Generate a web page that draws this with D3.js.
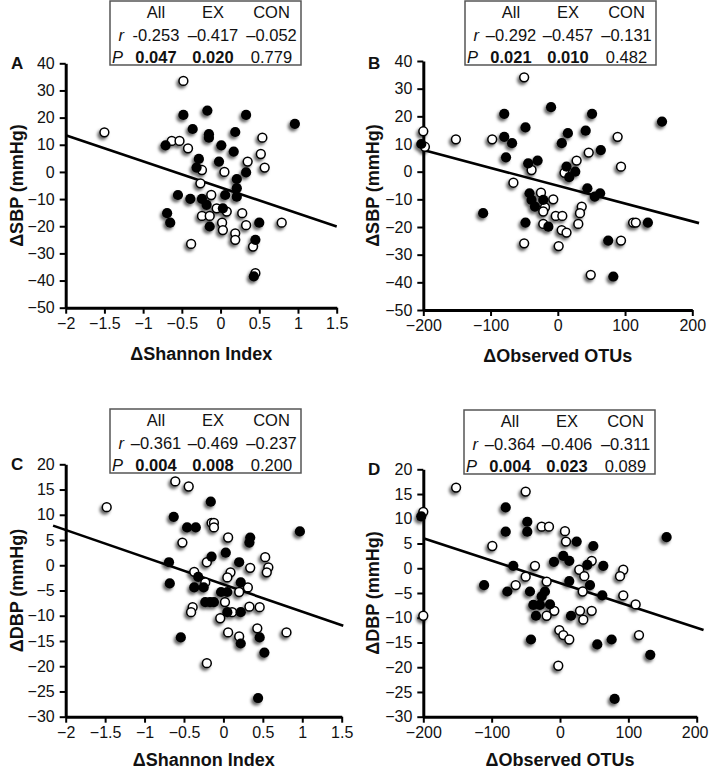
<!DOCTYPE html>
<html>
<head>
<meta charset="utf-8">
<script src="https://cdn.jsdelivr.net/npm/d3@7"></script>
<style>
  body { margin: 0; background: #fff; }
  svg { display: block; font-family: "Liberation Sans", Arial, sans-serif; }
</style>
</head>
<body>
<svg id="chart" width="709" height="769"></svg>
<script>
// ---------- DATA ----------
// Panel A: ΔShannon Index vs ΔSBP
const exA = [[-0.48,21.0],[-0.17,22.6],[0.33,21.0],[0.96,17.7],[-0.36,15.8],[-0.15,13.9],[-0.15,12.6],[0.19,14.7],[-0.71,9.8],[0.01,9.8],[0.17,7.5],[-0.02,3.8],[-0.28,4.8],[-0.31,1.6],[0.33,-0.2],[0.21,-2.6],[0.21,-6.0],[0.21,-9.1],[0.06,-8.5],[-0.55,-8.5],[-0.39,-9.9],[-0.24,-9.9],[-0.18,-12.1],[0.03,-13.4],[-0.69,-15.2],[-0.65,-18.7],[-0.14,-20.1],[0.50,-18.7],[0.45,-25.0],[0.43,-38.5]];
const conA = [[-1.50,14.6],[-0.48,33.5],[0.54,12.6],[-0.63,11.4],[-0.53,11.4],[-0.42,8.7],[0.52,6.6],[0.35,3.8],[-0.24,0.7],[0.57,1.6],[0.05,0.0],[-0.26,-4.2],[-0.12,-8.5],[-0.05,-13.4],[0.08,-14.6],[-0.24,-16.2],[-0.14,-16.2],[0.28,-15.2],[0.02,-18.7],[0.03,-21.4],[0.33,-19.6],[0.79,-18.7],[0.19,-22.6],[0.19,-25.0],[0.42,-27.5],[-0.38,-26.5],[0.45,-37.3]];
const fitA = [[-2,13.5],[1.5,-20.1]];
// Panel B: ΔObserved OTUs vs ΔSBP
const exB = [[-79.6,20.9],[-10,23.3],[51,20.9],[-48,16.0],[15,13.9],[41.5,14.8],[-79.6,12.6],[-68,10.3],[6,10.3],[64,7.8],[-77,5.2],[-44,3.0],[-30,4.0],[13,1.8],[17,-2.0],[26,0],[44,-6.0],[55,-9.0],[63,-7.8],[-42,-7.8],[-39,-10.2],[-34,-12.6],[-21.6,-10.2],[-111,-15.0],[-48,-18.4],[-14,-19.9],[134,-18.4],[75,-24.9],[82.6,-37.9],[155,18.1],[-203,10]];
const conB = [[-97.5,11.7],[89,12.6],[46,6.9],[-39,0.6],[28,4.0],[94,1.8],[10,-0.4],[-66,-4.0],[-25,-7.6],[-19,-12.9],[-6.7,-10.0],[-21.6,-14.4],[-3,-16.0],[6.7,-16.0],[35.6,-12.6],[33,-15.0],[30.5,-18.9],[-21.6,-18.9],[5.8,-21.1],[13,-22.0],[112,-18.4],[116,-18.4],[94,-24.9],[-50,-25.9],[1.3,-26.9],[49,-37.3],[-50,34.1],[-200,14.6],[-197.6,9.0],[-151.5,11.7]];
const fitB = [[-200,7.8],[210,-18.6]];
// Panel C: ΔShannon Index vs ΔDBP
const exC = [[-0.16,12.6],[-0.63,9.6],[-0.46,7.5],[-0.35,7.5],[0.97,6.7],[0.34,5.5],[0.33,4.5],[-0.15,1.7],[0.03,2.5],[-0.69,0.6],[0.20,0.6],[-0.32,-2.3],[-0.68,-3.6],[0.22,-3.4],[-0.37,-4.4],[-0.25,-4.4],[-0.03,-5.3],[0.05,-5.3],[-0.23,-7.3],[-0.17,-7.3],[-0.12,-7.3],[0.05,-9.3],[0.22,-9.3],[0.22,-15.5],[0.46,-14.3],[-0.54,-14.3],[0.52,-17.3],[0.44,-26.3]];
const conC = [[-0.61,16.6],[-0.44,15.6],[-0.15,8.4],[-0.12,8.4],[-0.12,7.5],[0.06,5.5],[-0.52,4.5],[-0.21,0.6],[0.53,1.6],[0.34,-0.5],[0.57,-0.4],[0.55,-1.4],[0.09,-1.4],[0.05,-2.4],[-0.37,-1.3],[0.31,-4.4],[-0.23,-3.4],[0.20,-5.3],[0.02,-7.3],[-0.39,-8.3],[-0.41,-9.3],[0.11,-9.3],[0.33,-8.2],[0.46,-8.3],[-0.04,-10.5],[0.06,-13.3],[0.20,-14.1],[0.43,-12.5],[0.80,-13.3],[-0.21,-19.4],[-1.48,11.5]];
const fitC = [[-2.16,7.85],[1.52,-12.0]];
// Panel D: ΔObserved OTUs vs ΔDBP
const exD = [[-79.4,12.3],[-47.8,9.4],[-47.8,7.4],[-79.4,7.4],[24.4,5.4],[48.8,4.5],[4.9,2.5],[-8.8,1.3],[13.6,1.5],[40,0.7],[63.4,0.5],[-68.3,0.5],[13.6,-2.6],[43.9,-3.4],[-111,-3.4],[-77,-4.7],[-43.9,-4.7],[-22,-4.7],[-26.8,-5.7],[61.9,-5.5],[-39,-7.4],[-29.3,-7.4],[-14.6,-7.3],[-35.1,-9.6],[16.1,-9.6],[-42.4,-14.4],[54.6,-15.4],[75.6,-14.4],[132.1,-17.5],[-203,10.5],[156,6.3],[80,-26.4]];
const conD = [[-50.2,15.5],[-26.8,8.4],[-16.1,8.4],[7.3,7.5],[8.8,5.4],[-99,4.5],[46.4,1.5],[28.2,-0.3],[92.6,-0.3],[87.8,-1.6],[35.6,-1.6],[-36.6,0.5],[-50.2,-1.7],[-19.5,-2.7],[-64.8,-3.4],[33.2,-4.7],[92.6,-5.5],[110.7,-7.3],[-8.3,-8.6],[-19.5,-9.6],[29.3,-8.6],[46.4,-8.6],[34.1,-10.4],[-1,-12.5],[4.9,-13.5],[13.6,-14.4],[115.6,-13.5],[-2.5,-19.7],[-152,16.3],[-200,11.4],[-200,-9.6]];
const fitD = [[-200,6.06],[210,-12.5]];

// tick values
const xTicksShannon = [-2,-1.5,-1,-0.5,0,0.5,1,1.5];
const xTicksOTU = [-200,-100,0,100,200];
const yTicksSBP = [-50,-40,-30,-20,-10,0,10,20,30,40];
const yTicksDBP = [-30,-25,-20,-15,-10,-5,0,5,10,15,20];

// table texts
const tableHeader = ["All","EX","CON"];
const rA = ["-0.253","\u20130.417","\u20130.052"], pA = ["0.047","0.020","0.779"];
const rB = ["\u20130.292","\u20130.457","\u20130.131"], pB = ["0.021","0.010","0.482"];
const rC = ["\u20130.361","\u20130.469","\u20130.237"], pC = ["0.004","0.008","0.200"];
const rD = ["\u20130.364","\u20130.406","\u20130.311"], pD = ["0.004","0.023","0.089"];
const pBold = [true,true,false];

// ---------- LAYOUT ----------
const panels = [
  {letter:"A", ex:exA, con:conA, fit:fitA, r:rA, p:pA, xT:xTicksShannon, yT:yTicksSBP,
   xr:[65.7,336.7], yr:[307.7,63.3], xd:[-2,1.5], yd:[-50,40], xTitle:"\u0394Shannon Index", yTitle:"\u0394SBP (mmHg)",
   tbl:[110,1], letterPos:[11,69], xTitleY:360, yTitleX:23},
  {letter:"B", ex:exB, con:conB, fit:fitB, r:rB, p:pB, xT:xTicksOTU, yT:yTicksSBP,
   xr:[423.3,692.3], yr:[310,61], xd:[-200,200], yd:[-50,40], xTitle:"\u0394Observed OTUs", yTitle:"\u0394SBP (mmHg)",
   tbl:[465,1], letterPos:[368,69], xTitleY:362, yTitleX:379},
  {letter:"C", ex:exC, con:conC, fit:fitC, r:rC, p:pC, xT:xTicksShannon, yT:yTicksDBP,
   xr:[65.7,341.7], yr:[716.7,464.3], xd:[-2,1.5], yd:[-30,20], xTitle:"\u0394Shannon Index", yTitle:"\u0394DBP (mmHg)",
   tbl:[110,409], letterPos:[11,470], xTitleY:766, yTitleX:23},
  {letter:"D", ex:exD, con:conD, fit:fitD, r:rD, p:pD, xT:xTicksOTU, yT:yTicksDBP,
   xr:[423.3,696.7], yr:[716.7,469.3], xd:[-200,200], yd:[-30,20], xTitle:"\u0394Observed OTUs", yTitle:"\u0394DBP (mmHg)",
   tbl:[464,410], letterPos:[368,475], xTitleY:766, yTitleX:379}
];

const svg = d3.select("#chart");
const defs = svg.append("defs");
const f = defs.append("filter").attr("id","shadow").attr("x","-50%").attr("y","-50%").attr("width","200%").attr("height","200%");
f.append("feDropShadow").attr("dx",-2).attr("dy",2.5).attr("stdDeviation",1.7)
  .attr("flood-color","#000").attr("flood-opacity",0.6);

const fmt = d3.format("~g");

panels.forEach(P => {
  const x = d3.scaleLinear().domain(P.xd).range(P.xr);
  const y = d3.scaleLinear().domain(P.yd).range(P.yr);
  const g = svg.append("g");

  // y axis
  const ya = g.append("g").attr("transform",`translate(${P.xr[0]},0)`)
    .call(d3.axisLeft(y).tickValues(P.yT).tickFormat(fmt).tickSize(6).tickSizeOuter(0).tickPadding(5));
  // x axis
  const xa = g.append("g").attr("transform",`translate(0,${P.yr[0]})`)
    .call(d3.axisBottom(x).tickValues(P.xT).tickFormat(fmt).tickSize(6).tickSizeOuter(0).tickPadding(4));
  [ya,xa].forEach(a => {
    a.select(".domain").attr("stroke","#000").attr("stroke-width",3);
    a.selectAll(".tick line").attr("stroke","#000").attr("stroke-width",2);
    a.selectAll(".tick text").attr("fill","#111").style("font-size","16px")
      .style("font-family","'Liberation Sans', Arial, sans-serif");
  });
  // keep the last x label inside the picture
  xa.selectAll(".tick text").filter(d => x(d) + 14 > 709).attr("text-anchor","end").attr("dx", 709 - 1 - 0);
  xa.selectAll(".tick text").filter(d => x(d) + 14 > 709).attr("dx", null).attr("x", 709 - 1 - x(P.xd[1]) - 0);

  // fit line
  g.append("path").datum(P.fit)
    .attr("d", d3.line().x(d=>x(d[0])).y(d=>y(d[1])))
    .attr("stroke","#000").attr("stroke-width",2.6).attr("fill","none");

  // points
  const pts = g.append("g").attr("filter","url(#shadow)");
  pts.selectAll("circle.con").data(P.con).enter().append("circle")
    .attr("cx",d=>x(d[0])).attr("cy",d=>y(d[1])).attr("r",4.4)
    .attr("fill","#fff").attr("stroke","#000").attr("stroke-width",1.5);
  pts.selectAll("circle.ex").data(P.ex).enter().append("circle")
    .attr("cx",d=>x(d[0])).attr("cy",d=>y(d[1])).attr("r",5.1)
    .attr("fill","#000");

  // titles
  g.append("text").attr("x",(P.xr[0]+P.xr[1])/2).attr("y",P.xTitleY)
    .attr("text-anchor","middle").attr("font-weight","bold").attr("font-size",18).attr("fill","#111")
    .text(P.xTitle);
  const ymid = (P.yr[0]+P.yr[1])/2;
  g.append("text").attr("transform",`translate(${P.yTitleX},${ymid}) rotate(-90)`)
    .attr("text-anchor","middle").attr("font-weight","bold").attr("font-size",18).attr("fill","#111")
    .text(P.yTitle);
  g.append("text").attr("x",P.letterPos[0]).attr("y",P.letterPos[1])
    .attr("font-weight","bold").attr("font-size",17).attr("fill","#111").text(P.letter);

  // table
  const [tx,ty] = P.tbl;
  const tg = g.append("g").attr("transform",`translate(${tx},${ty})`);
  tg.append("rect").attr("x",0).attr("y",0).attr("width",191).attr("height",64)
    .attr("fill","#fff").attr("stroke","#555").attr("stroke-width",1.5);
  const colX = [46,103,161.5];
  tableHeader.forEach((h,i)=> tg.append("text").attr("x",colX[i]).attr("y",17)
    .attr("text-anchor","middle").attr("font-size",16.5).attr("fill","#111").text(h));
  tg.append("text").attr("x",8.5).attr("y",39.5).attr("font-style","italic").attr("font-size",16.5).attr("fill","#111").text("r");
  tg.append("text").attr("x",2).attr("y",61.5).attr("font-style","italic").attr("font-size",16.5).attr("fill","#111").text("P");
  P.r.forEach((v,i)=> tg.append("text").attr("x",colX[i]).attr("y",39.5)
    .attr("text-anchor","middle").attr("font-size",16.5).attr("fill","#111").text(v));
  P.p.forEach((v,i)=> tg.append("text").attr("x",colX[i]).attr("y",62)
    .attr("text-anchor","middle").attr("font-size",16.5).attr("fill","#111")
    .attr("font-weight", pBold[i] ? "bold" : "normal").text(v));
});
</script>
</body>
</html>
